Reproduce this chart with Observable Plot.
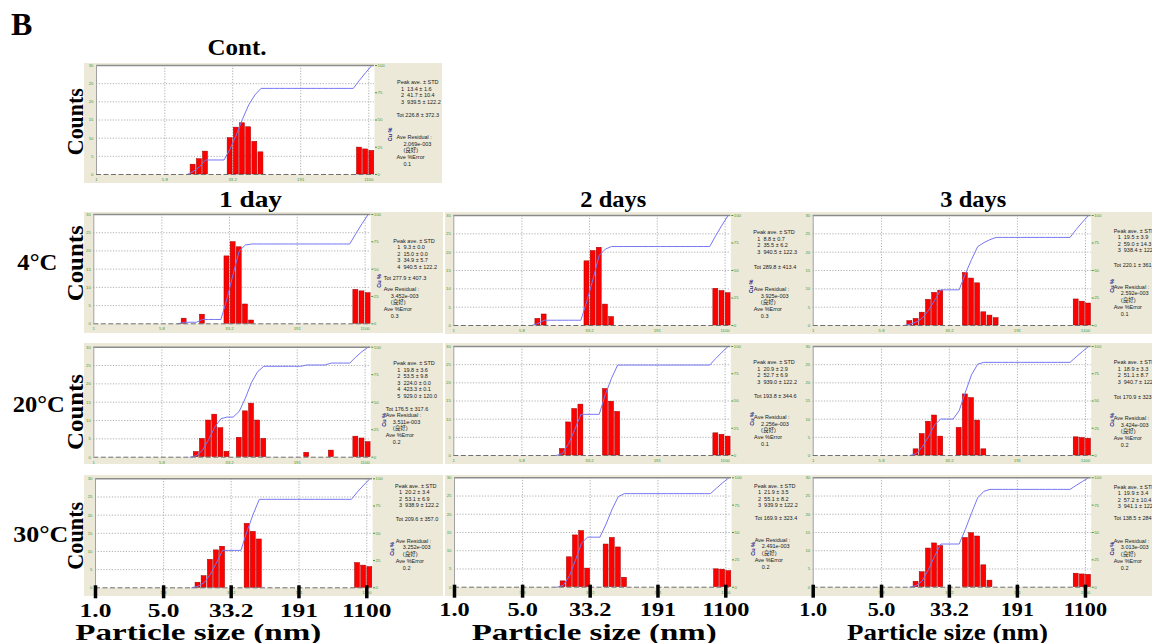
<!DOCTYPE html>
<html>
<head>
<meta charset="utf-8">
<script src="https://cdn.jsdelivr.net/npm/d3@7"></script>
<script src="https://cdn.jsdelivr.net/npm/@observablehq/plot@0.6"></script>
<style>
  html, body { margin:0; padding:0; background:#fff; overflow:hidden; }
  #fig { position:relative; width:1152px; height:643px; overflow:hidden; background:#fff; }
  .box { position:absolute; background:#ECE9D8; }
  .pan { position:absolute; }
  .pan svg { display:block; max-width:none !important; }
  #labels { position:absolute; left:0; top:0; pointer-events:none; overflow:visible; }
</style>
</head>
<body>
<div id="fig"></div>
<script>
// ---------------- DATA ----------------
const binSizes = [7.48, 8.76, 10.3, 12.0, 14.1, 16.5, 19.4, 22.7, 26.6, 31.1, 36.5, 42.7, 50.1, 58.7, 68.7, 80.5, 94.3, 110.5, 129.5, 151.7, 177.8, 208.3, 244.0, 285.9, 335.0, 392.5, 459.8, 538.8, 631.2, 739.6, 866.6, 1015, 1190];

const countsCont = [0,0,0,2.7,4.2,6.3,0,0,0,10.0, 12.9,14.1,13.0,9.0,6.1,0,0,0,0,0, 0,0,0,0,0,0,0,0,0,0, 7.4,6.9,6.5];
const counts4C1d = [0,0,1.4,0,0,2.5,0,0,0,18.5, 22.4,21.0,5.3,0.9,0,0,0,0,0,0, 0,0,0,0,0,0,0,0,0,0, 9.3,8.9,8.4];
const counts4C2d = [0,1.8,3.0,0,0,0,0,0,0,17.5, 20.3,21.2,5.7,2.3,0,0,0,0,0,0, 0,0,0,0,0,0,0,0,0,0, 10.0,9.4,8.8];
const counts4C3d = [0,0,0,1.2,1.8,3.5,7.0,8.9,9.5,0, 0,0,14.3,12.8,11.5,3.6,2.7,2.0,0,0, 0,0,0,0,0,0,0,0,0,0, 7.1,6.5,6.0];
const counts20C1d = [0,0,0,0,1.4,5.0,10.0,11.6,7.9,1.5, 0,5.3,12.5,14.6,10.0,5.0,0,0,0,0, 0,0,1.2,0,0,0,1.8,0,0,0, 5.6,5.1,4.1];
const counts20C2d = [0,0,0,0,0,1.8,9.1,12.8,14.0,0, 0,0,18.3,14.8,12.0,0,0,0,0,0, 0,0,0,0,0,0,0,0,0,0, 6.1,5.7,5.2];
const counts20C3d = [0,0,0,0,1.7,5.9,9.3,11.0,5.2,0, 0,7.6,16.8,15.8,9.6,1.7,0,0,0,0, 0,0,0,0,0,0,0,0,0,0, 5.0,4.8,4.6];
const counts30C1d = [0,0,0,0,1.4,3.2,7.7,10.3,11.3,0, 0,0,17.6,15.4,13.3,0,0,0,0,0, 0,0,0,0,0,0,0,0,0,0, 6.8,6.1,5.7];
const counts30C2d = [0,0,0,0,0,1.6,8.2,14.2,15.4,5.1, 0,0,11.7,13.5,10.9,2.6,0,0,0,0, 0,0,0,0,0,0,0,0,0,0, 4.9,4.8,4.4];
const counts30C3d = [0,0,0,0,1.5,4.1,10.6,12.0,11.3,0, 0,0,13.5,14.8,13.9,6.0,1.8,0,0,0, 0,0,0,0,0,0,0,0,0,0, 3.7,3.5,3.4];

const peakStats = [
  ["1  13.4 ± 1.6", "2  41.7 ± 10.4", "3  939.5 ± 122.2"],
  ["1  9.3 ± 0.0", "2  15.0 ± 0.0", "3  34.9 ± 5.7", "4  940.5 ± 122.2"],
  ["1  8.8 ± 0.7", "2  35.5 ± 6.2", "3  940.5 ± 122.3"],
  ["1  19.5 ± 3.9", "2  59.0 ± 14.3", "3  938.4 ± 122.2"],
  ["1  19.8 ± 3.6", "2  53.5 ± 9.8", "3  224.0 ± 0.0", "4  423.3 ± 0.1", "5  929.0 ± 120.0"],
  ["1  20.9 ± 2.9", "2  52.7 ± 6.9", "3  939.0 ± 122.2"],
  ["1  18.9 ± 3.3", "2  51.1 ± 8.7", "3  940.7 ± 122.2"],
  ["1  20.2 ± 3.4", "2  53.1 ± 6.9", "3  938.9 ± 122.2"],
  ["1  21.9 ± 3.5", "2  55.1 ± 8.2", "3  939.9 ± 122.2"],
  ["1  19.9 ± 3.4", "2  57.2 ± 10.4", "3  941.1 ± 122.2"]
];
const totStats = ["226.8 ± 372.3", "277.9 ± 407.3", "289.8 ± 413.4", "220.1 ± 361.5", "176.5 ± 317.6",
                  "193.8 ± 344.6", "170.9 ± 323.5", "209.6 ± 357.0", "169.9 ± 323.4", "138.5 ± 284.7"];
const residuals = ["2.069e-003", "3.452e-003", "3.925e-003", "2.592e-003", "3.511e-003",
                   "2.256e-003", "3.424e-003", "3.252e-003", "2.491e-003", "3.013e-003"];
const fitStatus = ["(良好)", "(良好)", "(良好)", "(良好)", "(良好)", "(良好)", "(良好)", "(良好)", "(良好)", "(良好)"];
const errors = ["0.1", "0.3", "0.3", "0.1", "0.2", "0.1", "0.2", "0.2", "0.2", "0.2"];

const xTicks = [1, 5.8, 33.2, 191, 1100];
const xTickLabels = ["1", "5.8", "33.2", "191", "1100"];
const xGrid = [5.8, 33.2, 191, 1100];
const yTicks = [0, 5, 10, 15, 20, 25, 30];
const yGrid = [5, 10, 15, 20, 25];
const cuTicks = [0, 25, 50, 75, 100];
const bigTicks = [1, 5.8, 33.2, 191, 1100];
const bigLabels = ["1.0", "5.0", "33.2", "191", "1100"];

const panelLabel = "B";
const controlTitle = "Cont.";
const columnTitles = ["1 day", "2 days", "3 days"];
const rowLabels = ["4°C", "20°C", "30°C"];
const yTitle = "Counts";
const xTitle = "Particle size (nm)";
const peakHeader = "Peak ave. ± STD";
const totLabel = "Tot";
const residualLabel = "Ave Residual :";
const errorLabel = "Ave %Error";
const cuLabel = "Cu %";

// ---------------- LAYOUT / STYLE ----------------
const countsList = [countsCont, counts4C1d, counts4C2d, counts4C3d, counts20C1d, counts20C2d, counts20C3d, counts30C1d, counts30C2d, counts30C3d];
const yMax = 30, xMax = 1275, barHalf = 1.066;
const SANS = "'Liberation Sans', Arial, 'Noto Sans CJK JP', sans-serif";
const SERIF = "'Liberation Serif', 'Times New Roman', serif";
const GREEN = "#3a9a3a";

const labelFor = (ticks, labels) => d => labels[d3.minIndex(ticks, t => Math.abs(Math.log(t / d)))];

const layout = [
 {bx:84,  by:63,  bw:358, bh:120, ml:12,  mt:2,   pw:278, ph:109,   svgH:120, peak:15,   tot:48,   res:70,   sub:22,   cuDx:14,   cuDy:62},
 {bx:84,  by:212, bw:359, bh:121, ml:9.3, mt:2,   pw:277, ph:109.3, svgH:121, peak:24.3, tot:62,   res:73,   sub:13,   cuDx:6.5,  cuDy:59.5},
 {bx:445, by:212, bw:361, bh:122, ml:8.3, mt:3,   pw:277, ph:110,   svgH:122, peak:15,   tot:50,   res:71.7, sub:23,   cuDx:18.3, cuDy:64},
 {bx:805, by:212, bw:361, bh:122, ml:7.7, mt:3,   pw:278, ph:110,   svgH:122, peak:13.3, tot:47.7, res:69.3, sub:22.6, cuDx:18.6, cuDy:63.5},
 {bx:84,  by:343, bw:359, bh:121, ml:9.3, mt:3.7, pw:277, ph:110,   svgH:121, peak:14,   tot:60,   res:66,   sub:15,   cuDx:11.7, cuDy:65.8},
 {bx:445, by:343, bw:361, bh:121, ml:8.3, mt:3,   pw:277, ph:109,   svgH:121, peak:14,   tot:47.3, res:69,   sub:23.3, cuDx:19.3, cuDy:65.5},
 {bx:805, by:343, bw:361, bh:121, ml:7.7, mt:3,   pw:278, ph:109,   svgH:121, peak:14,   tot:49,   res:70,   sub:22.6, cuDx:18.6, cuDy:66.5},
 {bx:84,  by:475, bw:359, bh:121, ml:11,  mt:3.3, pw:277, ph:109,   svgH:168, peak:5,    tot:38.4, res:60,   sub:23.3, cuDx:17.3, cuDy:63.2, big:1.34},
 {bx:445, by:475, bw:361, bh:121, ml:9,   mt:2.3, pw:277, ph:109.4, svgH:168, peak:6,    tot:38.4, res:60,   sub:23.3, cuDx:20,   cuDy:64.2, big:1.28},
 {bx:805, by:475, bw:361, bh:121, ml:7.7, mt:2.3, pw:278, ph:109.4, svgH:168, peak:7,    tot:38.4, res:61,   sub:22.6, cuDx:19.3, cuDy:64,   big:1.17}
];

const fig = document.getElementById("fig");

function txt(s, dx, dy, extra = {}) {
  return Plot.text([s], {frameAnchor: "top-right", dx, dy, text: d => d, textAnchor: "start",
    fontSize: 5.5, fill: "#1a1a1a", fontFamily: SANS, ...extra});
}

function makePanel(i) {
  const L = layout[i];
  const counts = countsList[i];
  const bars = binSizes.map((s, j) => ({size: s, count: counts[j]})).filter(d => d.count > 0);
  const total = d3.sum(counts);
  const cum = Array.from(d3.cumsum(counts));
  const first = counts.findIndex(v => v > 0);
  let last = counts.length - 1; while (counts[last] === 0) last--;
  const line = d3.range(Math.max(0, first - 1), last + 1).map(j => ({size: binSizes[j], cu: cum[j] / total * 100}));

  const box = document.createElement("div");
  box.className = "box";
  Object.assign(box.style, {left: L.bx + "px", top: L.by + "px", width: L.bw + "px", height: L.bh + "px"});
  fig.appendChild(box);

  const marks = [
    Plot.frame({fill: "white", stroke: "none"}),
    Plot.gridY(yGrid, {stroke: "#9c9c9c", strokeOpacity: 1, strokeDasharray: "1.2,1.6", strokeWidth: 0.8}),
    Plot.gridX(xGrid, {stroke: "#9c9c9c", strokeOpacity: 1, strokeDasharray: "1.2,1.6", strokeWidth: 0.8}),
    Plot.rect(bars, {x1: d => d.size / barHalf, x2: d => d.size * barHalf, y1: 0, y2: "count",
      fill: "#ff0000", stroke: "#9a0000", strokeWidth: 0.5}),
    Plot.line(line, {x: "size", y: d => d.cu * yMax / 100, stroke: "#7676f4", strokeWidth: 1}),
    Plot.ruleY([0], {stroke: "#707070", strokeDasharray: "5,2.5", strokeWidth: 1}),
    Plot.ruleY([yMax], {stroke: "#8c8c8c", strokeWidth: 1.6}),
    Plot.ruleX([xTicks[0]], {stroke: "#a0a0a0", strokeWidth: 1}),
    Plot.axisY(yTicks, {anchor: "left", tickSize: 0, tickPadding: 3, fontSize: 4.3, color: GREEN, fontFamily: SANS, label: null}),
    Plot.axisY(cuTicks.map(v => v * yMax / 100), {anchor: "right", tickSize: 2, tickPadding: 1, fontSize: 4.3, color: GREEN,
      fontFamily: SANS, label: null, tickFormat: d => String(Math.round(d * 100 / yMax))}),
    Plot.text(xTicks, {x: d => d, text: labelFor(xTicks, xTickLabels), frameAnchor: "bottom", lineAnchor: "top",
      dy: 3.5, fontSize: 4.3, fill: GREEN, fontFamily: SANS}),
    txt(peakHeader, 22.5, L.peak),
    ...peakStats[i].map((s, k) => txt(s, 26.5, L.peak + 6.5 * (k + 1))),
    txt(totLabel + " " + totStats[i], L.sub, L.tot),
    txt(residualLabel, L.sub, L.res),
    txt(residuals[i], L.sub + 7, L.res + 6.5),
    txt(fitStatus[i], L.sub + 7, L.res + 13),
    txt(errorLabel, L.sub, L.res + 20),
    txt(errors[i], L.sub + 7, L.res + 27),
    Plot.text([cuLabel], {frameAnchor: "top-right", dx: L.cuDx, dy: L.cuDy, text: d => d, rotate: -90,
      fontSize: 5.5, fontWeight: "bold", fill: "#22228c", fontFamily: SANS})
  ];
  if (L.big) {
    marks.push(
      Plot.axisX(bigTicks, {anchor: "bottom", tickSize: 13, dy: -2, strokeWidth: 3.5, color: "black",
        tickFormat: () => "", label: null}),
      Plot.text(bigTicks, {x: d => d, text: labelFor(bigTicks, bigLabels), frameAnchor: "bottom", lineAnchor: "top",
        dy: 15.5, fontSize: 19, fontWeight: "bold", fontFamily: SERIF, fill: "black"})
    );
  }
  const svg = Plot.plot({
    width: L.bw, height: L.svgH,
    marginLeft: L.ml, marginRight: L.bw - L.ml - L.pw, marginTop: L.mt, marginBottom: L.svgH - L.mt - L.ph,
    x: {type: "log", domain: [1, xMax], axis: null, label: null},
    y: {domain: [0, yMax], axis: null, label: null},
    style: {background: "transparent", overflow: "visible"},
    marks
  });
  const holder = document.createElement("div");
  holder.className = "pan";
  Object.assign(holder.style, {left: L.bx + "px", top: L.by + "px", width: L.bw + "px", height: L.svgH + "px"});
  holder.appendChild(svg);
  fig.appendChild(holder);
  if (L.big) {
    // the large bold tick labels of the reference are horizontally wider than the font: stretch them in place
    svg.querySelectorAll('g[font-size="19"] text').forEach(t => {
      const w = t.getComputedTextLength();
      if (w > 0) {
        t.setAttribute("textLength", (w * L.big).toFixed(1));
        t.setAttribute("lengthAdjust", "spacingAndGlyphs");
      }
    });
  }
}

for (let i = 0; i < countsList.length; i++) makePanel(i);

// ---------------- big labels overlay ----------------
const labelSpecs = [
  {t: panelLabel, x: 11, y: 35, size: 32, anchor: "start"},
  {t: controlTitle, x: 237, y: 55, size: 24, anchor: "middle", len: 59},
  {t: columnTitles[0], x: 250.5, y: 206.5, size: 23, anchor: "middle", len: 63},
  {t: columnTitles[1], x: 613.3, y: 206.5, size: 23, anchor: "middle", len: 66},
  {t: columnTitles[2], x: 973.3, y: 206.5, size: 23, anchor: "middle", len: 66},
  {t: rowLabels[0], x: 17.3, y: 270, size: 23, anchor: "start", len: 40},
  {t: rowLabels[1], x: 12.7, y: 411.7, size: 23, anchor: "start", len: 52},
  {t: rowLabels[2], x: 13.3, y: 541.7, size: 23, anchor: "start", len: 55},
  {t: yTitle, x: 83, y: 121.7, size: 23, anchor: "middle", len: 67, rot: -90},
  {t: yTitle, x: 83, y: 263.3, size: 23, anchor: "middle", len: 76, rot: -90},
  {t: yTitle, x: 83, y: 412, size: 23, anchor: "middle", len: 76, rot: -90},
  {t: yTitle, x: 83, y: 535.8, size: 23, anchor: "middle", len: 68, rot: -90},
  {t: xTitle, x: 198.3, y: 639.5, size: 24, anchor: "middle", len: 246},
  {t: xTitle, x: 594.2, y: 639.5, size: 24, anchor: "middle", len: 245},
  {t: xTitle, x: 947.5, y: 639.5, size: 24, anchor: "middle", len: 201}
];
const ov = d3.select(fig).append("svg").attr("id", "labels").attr("width", 1152).attr("height", 643);
for (const s of labelSpecs) {
  const t = ov.append("text")
    .attr("transform", `translate(${s.x},${s.y})` + (s.rot ? ` rotate(${s.rot})` : ""))
    .attr("text-anchor", s.anchor)
    .attr("font-family", SERIF).attr("font-weight", "bold").attr("font-size", s.size)
    .attr("fill", "#000")
    .text(s.t);
  if (s.len) t.attr("textLength", s.len).attr("lengthAdjust", "spacingAndGlyphs");
}
</script>
</body>
</html>
